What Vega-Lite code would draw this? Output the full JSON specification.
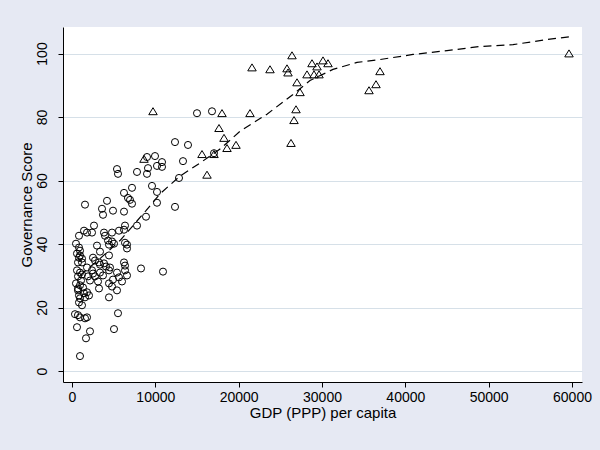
{
  "$schema": "https://vega.github.io/schema/vega-lite/v6.json",
  "width": 519,
  "height": 355,
  "autosize": {"type": "none"},
  "padding": {"left": 63, "top": 27, "right": 18, "bottom": 68},
  "background": "#E6E9F3",
  "config": {
    "view": {"fill": "white", "stroke": null},
    "font": "Liberation Sans",
    "axis": {
      "domainColor": "black",
      "domainWidth": 1,
      "tickColor": "black",
      "tickWidth": 1,
      "tickSize": 5,
      "labelColor": "black",
      "labelFontSize": 14,
      "titleColor": "black",
      "titleFontSize": 15,
      "titleFontWeight": "normal",
      "labelFont": "Liberation Sans",
      "titleFont": "Liberation Sans"
    }
  },
  "datasets": {
    "points": [
      {"gdp": 16800, "score": 81.8, "group": "A"},
      {"gdp": 15000, "score": 81.2, "group": "A"},
      {"gdp": 12360, "score": 72.1, "group": "A"},
      {"gdp": 13920, "score": 71.2, "group": "A"},
      {"gdp": 9000, "score": 67.4, "group": "A"},
      {"gdp": 9960, "score": 67.7, "group": "A"},
      {"gdp": 13320, "score": 66.1, "group": "A"},
      {"gdp": 10800, "score": 65.8, "group": "A"},
      {"gdp": 10200, "score": 64.6, "group": "A"},
      {"gdp": 10800, "score": 64.3, "group": "A"},
      {"gdp": 9120, "score": 63.9, "group": "A"},
      {"gdp": 9000, "score": 62.1, "group": "A"},
      {"gdp": 5400, "score": 63.6, "group": "A"},
      {"gdp": 5520, "score": 62.1, "group": "A"},
      {"gdp": 7800, "score": 62.7, "group": "A"},
      {"gdp": 12840, "score": 60.8, "group": "A"},
      {"gdp": 7200, "score": 57.7, "group": "A"},
      {"gdp": 9600, "score": 58.3, "group": "A"},
      {"gdp": 10200, "score": 56.4, "group": "A"},
      {"gdp": 6240, "score": 56.1, "group": "A"},
      {"gdp": 6720, "score": 54.5, "group": "A"},
      {"gdp": 6960, "score": 53.9, "group": "A"},
      {"gdp": 7200, "score": 52.7, "group": "A"},
      {"gdp": 4200, "score": 53.6, "group": "A"},
      {"gdp": 1560, "score": 52.4, "group": "A"},
      {"gdp": 10200, "score": 53.0, "group": "A"},
      {"gdp": 12360, "score": 51.7, "group": "A"},
      {"gdp": 3600, "score": 51.1, "group": "A"},
      {"gdp": 4920, "score": 50.5, "group": "A"},
      {"gdp": 3720, "score": 49.2, "group": "A"},
      {"gdp": 6240, "score": 50.2, "group": "A"},
      {"gdp": 8880, "score": 48.6, "group": "A"},
      {"gdp": 7800, "score": 45.8, "group": "A"},
      {"gdp": 6360, "score": 45.8, "group": "A"},
      {"gdp": 6240, "score": 44.5, "group": "A"},
      {"gdp": 5640, "score": 44.2, "group": "A"},
      {"gdp": 2640, "score": 45.8, "group": "A"},
      {"gdp": 1440, "score": 44.2, "group": "A"},
      {"gdp": 840, "score": 42.6, "group": "A"},
      {"gdp": 1800, "score": 43.6, "group": "A"},
      {"gdp": 2400, "score": 43.6, "group": "A"},
      {"gdp": 3840, "score": 43.6, "group": "A"},
      {"gdp": 3960, "score": 42.6, "group": "A"},
      {"gdp": 4800, "score": 43.6, "group": "A"},
      {"gdp": 4320, "score": 41.1, "group": "A"},
      {"gdp": 4800, "score": 40.8, "group": "A"},
      {"gdp": 5040, "score": 40.1, "group": "A"},
      {"gdp": 4440, "score": 39.8, "group": "A"},
      {"gdp": 3000, "score": 39.5, "group": "A"},
      {"gdp": 6360, "score": 40.4, "group": "A"},
      {"gdp": 6600, "score": 39.8, "group": "A"},
      {"gdp": 6600, "score": 38.6, "group": "A"},
      {"gdp": 840, "score": 38.9, "group": "A"},
      {"gdp": 960, "score": 37.9, "group": "A"},
      {"gdp": 600, "score": 37.0, "group": "A"},
      {"gdp": 960, "score": 36.4, "group": "A"},
      {"gdp": 840, "score": 35.7, "group": "A"},
      {"gdp": 1200, "score": 35.4, "group": "A"},
      {"gdp": 1200, "score": 34.2, "group": "A"},
      {"gdp": 2520, "score": 35.7, "group": "A"},
      {"gdp": 2760, "score": 34.8, "group": "A"},
      {"gdp": 3240, "score": 34.2, "group": "A"},
      {"gdp": 3360, "score": 33.5, "group": "A"},
      {"gdp": 3840, "score": 33.9, "group": "A"},
      {"gdp": 4080, "score": 32.9, "group": "A"},
      {"gdp": 4440, "score": 36.4, "group": "A"},
      {"gdp": 4560, "score": 32.6, "group": "A"},
      {"gdp": 4440, "score": 31.7, "group": "A"},
      {"gdp": 6240, "score": 34.2, "group": "A"},
      {"gdp": 6360, "score": 33.2, "group": "A"},
      {"gdp": 8280, "score": 32.3, "group": "A"},
      {"gdp": 10920, "score": 31.3, "group": "A"},
      {"gdp": 600, "score": 31.7, "group": "A"},
      {"gdp": 960, "score": 31.0, "group": "A"},
      {"gdp": 1200, "score": 30.4, "group": "A"},
      {"gdp": 720, "score": 29.8, "group": "A"},
      {"gdp": 1080, "score": 28.5, "group": "A"},
      {"gdp": 1800, "score": 32.6, "group": "A"},
      {"gdp": 2400, "score": 31.7, "group": "A"},
      {"gdp": 2520, "score": 30.7, "group": "A"},
      {"gdp": 1920, "score": 29.8, "group": "A"},
      {"gdp": 2160, "score": 28.5, "group": "A"},
      {"gdp": 2760, "score": 29.8, "group": "A"},
      {"gdp": 3360, "score": 31.0, "group": "A"},
      {"gdp": 3720, "score": 30.1, "group": "A"},
      {"gdp": 5400, "score": 31.0, "group": "A"},
      {"gdp": 5640, "score": 29.5, "group": "A"},
      {"gdp": 6360, "score": 31.7, "group": "A"},
      {"gdp": 6600, "score": 30.1, "group": "A"},
      {"gdp": 4920, "score": 28.8, "group": "A"},
      {"gdp": 3120, "score": 28.2, "group": "A"},
      {"gdp": 4440, "score": 27.6, "group": "A"},
      {"gdp": 4800, "score": 26.6, "group": "A"},
      {"gdp": 6000, "score": 28.2, "group": "A"},
      {"gdp": 960, "score": 27.0, "group": "A"},
      {"gdp": 1320, "score": 26.3, "group": "A"},
      {"gdp": 720, "score": 26.0, "group": "A"},
      {"gdp": 3240, "score": 26.0, "group": "A"},
      {"gdp": 5400, "score": 25.4, "group": "A"},
      {"gdp": 1440, "score": 24.5, "group": "A"},
      {"gdp": 1800, "score": 24.8, "group": "A"},
      {"gdp": 2040, "score": 23.8, "group": "A"},
      {"gdp": 840, "score": 23.8, "group": "A"},
      {"gdp": 960, "score": 22.9, "group": "A"},
      {"gdp": 840, "score": 21.6, "group": "A"},
      {"gdp": 1560, "score": 23.2, "group": "A"},
      {"gdp": 4440, "score": 23.2, "group": "A"},
      {"gdp": 1200, "score": 20.7, "group": "A"},
      {"gdp": 360, "score": 17.9, "group": "A"},
      {"gdp": 720, "score": 17.6, "group": "A"},
      {"gdp": 960, "score": 16.9, "group": "A"},
      {"gdp": 1560, "score": 16.6, "group": "A"},
      {"gdp": 1800, "score": 16.9, "group": "A"},
      {"gdp": 5520, "score": 18.2, "group": "A"},
      {"gdp": 600, "score": 13.8, "group": "A"},
      {"gdp": 2160, "score": 12.5, "group": "A"},
      {"gdp": 5040, "score": 13.2, "group": "A"},
      {"gdp": 1680, "score": 10.3, "group": "A"},
      {"gdp": 960, "score": 4.7, "group": "A"},
      {"gdp": 480, "score": 40.1, "group": "A"},
      {"gdp": 720, "score": 34.2, "group": "A"},
      {"gdp": 480, "score": 27.6, "group": "A"},
      {"gdp": 720, "score": 25.4, "group": "A"},
      {"gdp": 3360, "score": 37.6, "group": "A"},
      {"gdp": 17040, "score": 68.6, "group": "A"},
      {"gdp": 59640, "score": 100.0, "group": "B"},
      {"gdp": 26400, "score": 99.4, "group": "B"},
      {"gdp": 21600, "score": 95.6, "group": "B"},
      {"gdp": 23760, "score": 95.0, "group": "B"},
      {"gdp": 25800, "score": 95.3, "group": "B"},
      {"gdp": 25920, "score": 94.0, "group": "B"},
      {"gdp": 28800, "score": 96.9, "group": "B"},
      {"gdp": 30120, "score": 97.8, "group": "B"},
      {"gdp": 30720, "score": 96.9, "group": "B"},
      {"gdp": 29400, "score": 95.9, "group": "B"},
      {"gdp": 28200, "score": 93.4, "group": "B"},
      {"gdp": 29040, "score": 93.4, "group": "B"},
      {"gdp": 29640, "score": 93.4, "group": "B"},
      {"gdp": 27000, "score": 90.9, "group": "B"},
      {"gdp": 27360, "score": 87.8, "group": "B"},
      {"gdp": 36960, "score": 94.4, "group": "B"},
      {"gdp": 36480, "score": 90.3, "group": "B"},
      {"gdp": 35640, "score": 88.4, "group": "B"},
      {"gdp": 26880, "score": 82.4, "group": "B"},
      {"gdp": 26640, "score": 79.0, "group": "B"},
      {"gdp": 26280, "score": 71.8, "group": "B"},
      {"gdp": 9720, "score": 81.8, "group": "B"},
      {"gdp": 18000, "score": 81.2, "group": "B"},
      {"gdp": 21360, "score": 81.2, "group": "B"},
      {"gdp": 17640, "score": 76.5, "group": "B"},
      {"gdp": 18240, "score": 73.4, "group": "B"},
      {"gdp": 18600, "score": 70.2, "group": "B"},
      {"gdp": 19680, "score": 71.2, "group": "B"},
      {"gdp": 15600, "score": 68.3, "group": "B"},
      {"gdp": 17040, "score": 68.3, "group": "B"},
      {"gdp": 16200, "score": 61.8, "group": "B"},
      {"gdp": 8640, "score": 66.8, "group": "B"}
    ],
    "fit": [
      {"gdp": 960, "score": 30.1},
      {"gdp": 3360, "score": 35.4},
      {"gdp": 5760, "score": 41.1},
      {"gdp": 8880, "score": 50.5},
      {"gdp": 10560, "score": 55.8},
      {"gdp": 12960, "score": 61.4},
      {"gdp": 15360, "score": 65.5},
      {"gdp": 17760, "score": 69.9},
      {"gdp": 20160, "score": 75.5},
      {"gdp": 23400, "score": 80.9},
      {"gdp": 26520, "score": 87.1},
      {"gdp": 28560, "score": 91.5},
      {"gdp": 31320, "score": 95.0},
      {"gdp": 34200, "score": 97.2},
      {"gdp": 36960, "score": 98.1},
      {"gdp": 40920, "score": 99.7},
      {"gdp": 45000, "score": 100.9},
      {"gdp": 48960, "score": 102.2},
      {"gdp": 52920, "score": 102.8},
      {"gdp": 57000, "score": 104.4},
      {"gdp": 59760, "score": 105.3}
    ]
  },
  "encoding": {
    "x": {
      "field": "gdp", "type": "quantitative",
      "scale": {"domain": [-1080, 61200], "nice": false, "zero": false},
      "axis": {"title": "GDP (PPP) per capita", "values": [0, 10000, 20000, 30000, 40000, 50000, 60000], "format": "d", "grid": false, "labelPadding": 3, "titlePadding": 1, "labelFlush": false}
    },
    "y": {
      "field": "score", "type": "quantitative",
      "scale": {"domain": [-3.46, 108.35], "nice": false, "zero": false},
      "axis": {"title": "Governance Score", "values": [0, 20, 40, 60, 80, 100], "grid": true, "gridColor": "#D6E0E8", "gridWidth": 1, "labelAngle": 270, "labelAlign": "center", "labelBaseline": "bottom", "labelPadding": 9, "titlePadding": 1, "labelFlush": false}
    }
  },
  "layer": [
    {
      "data": {"name": "points"},
      "mark": {"type": "point", "filled": false, "color": "black", "strokeWidth": 1, "opacity": 1},
      "encoding": {
        "shape": {"field": "group", "type": "nominal", "scale": {"domain": ["A", "B"], "range": ["circle", "M-1,0.8L0,-0.85L1,0.8Z"]}, "legend": null},
        "size": {"field": "group", "type": "nominal", "scale": {"domain": ["A", "B"], "range": [50, 72]}, "legend": null}
      }
    },
    {
      "data": {"name": "fit"},
      "mark": {"type": "line", "color": "black", "strokeWidth": 1.2, "strokeDash": [8, 5]},
      "encoding": {}
    }
  ]
}
